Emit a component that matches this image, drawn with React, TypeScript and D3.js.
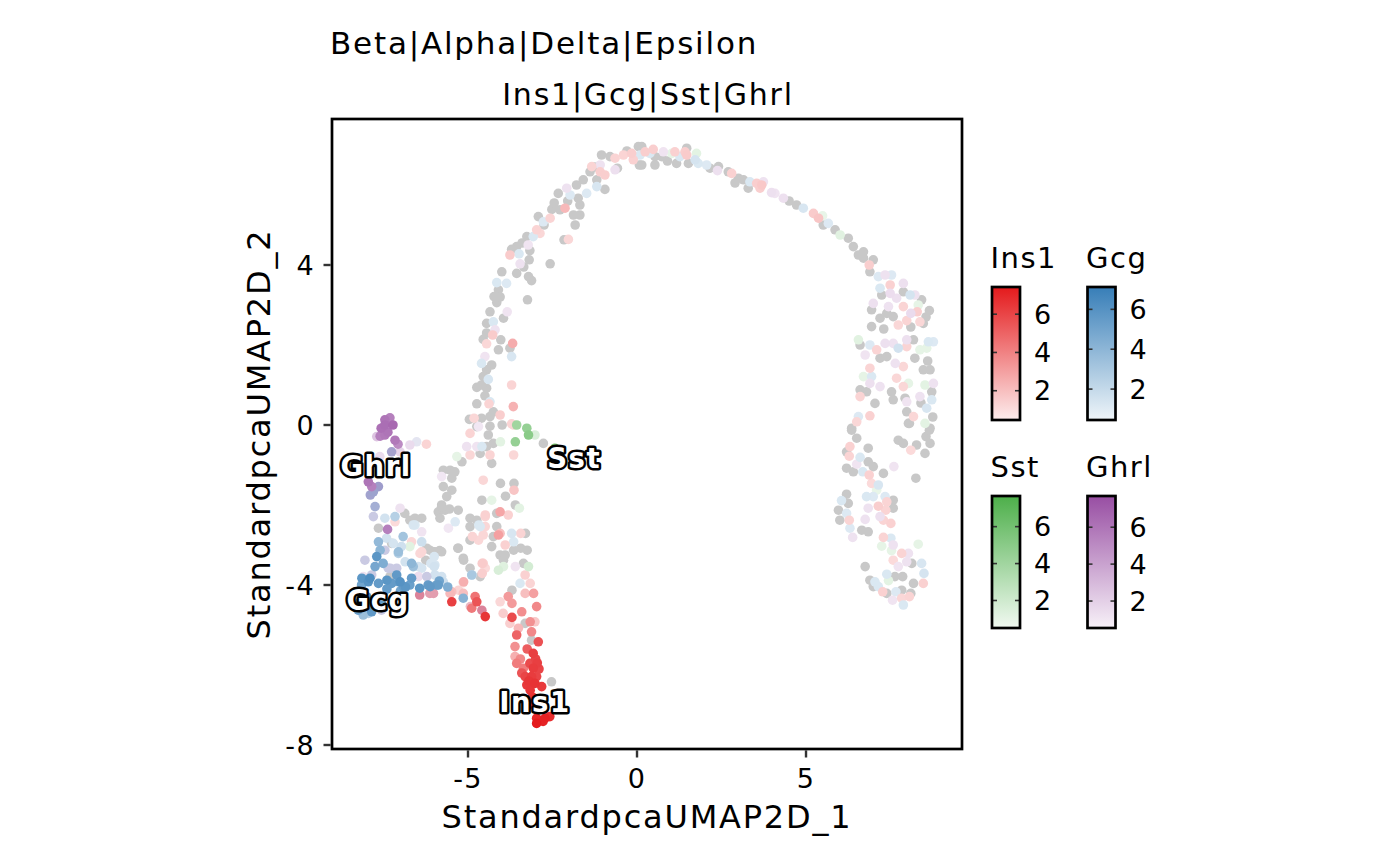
import React from 'react';
import * as d3 from 'd3';

// feature order used everywhere below
const genes = ['Ins1', 'Gcg', 'Sst', 'Ghrl'];
const geneColors = ['#E41A1C', '#377EB8', '#4DAF4A', '#984EA3'];
const geneMin = [0.47, 0.45, 0.51, 0.54];
const geneMax = [7.42, 7.12, 7.66, 7.69];
const legendTicks = [2, 4, 6];
const xTicks = [-5, 0, 5];
const yTicks = [-8, -4, 0, 4];

const labelGenes = ['Ins1', 'Gcg', 'Sst', 'Ghrl'];
const labelX = [-3.02, -7.66, -1.86, -7.72];
const labelY = [-6.93, -4.38, -0.83, -1.03];

// cells with no expression of any feature
const grayCells: [number, number][] = [
    [0.04, 6.96], [0.07, 6.5], [-1.05, 6.75], [-0.8, 6.71], [-1.39, 6.33], [-0.58, 6.42], [-1.19, 6.13], [-1.59, 6.13],
    [-1.79, 6.0], [-0.95, 5.89], [-2.33, 5.79], [-1.74, 5.67], [-1.69, 5.5], [-2.28, 5.38], [-2.52, 5.39], [-2.92, 5.21],
    [-1.88, 5.25], [-1.69, 5.25], [-1.83, 5.0], [-3.26, 4.71], [-3.56, 4.46], [-3.71, 4.39], [-3.17, 4.36], [-3.19, 4.13],
    [-3.56, 3.79], [-3.21, 3.71], [-3.12, 3.61], [-2.57, 4.03], [-2.16, 4.63], [-4.0, 3.83], [-4.1, 3.38], [-4.23, 3.21],
    [-4.15, 3.06], [-3.24, 3.13], [-4.35, 2.83], [-3.95, 2.67], [-4.45, 2.54], [-4.55, 2.14], [-4.03, 2.13], [-3.76, 1.92],
    [-4.1, 1.88], [-4.3, 1.5], [-4.45, 1.38], [-4.55, 1.21], [-4.74, 0.94], [-4.45, 0.92], [-4.5, 0.73], [-4.74, 0.53],
    [-4.6, 0.17], [-4.35, 0.21], [-4.25, 0.33], [-4.96, 0.14], [-4.35, -0.03],
    [-1.25, 6.45], [-2.45, 5.55], [-2.75, 5.0], [-3.4, 4.55], [-3.35, 3.95], [-4.05, 3.2], [-4.45, 2.3], [-4.6, 1.0],
    [-0.3, 6.85], [-2.05, 5.6],
    [0.14, 6.96], [0.53, 6.71], [0.14, 6.5], [0.53, 6.5], [0.73, 6.71], [1.17, 6.54], [1.47, 6.92], [1.52, 6.54],
    [2.16, 6.42], [2.41, 6.46], [2.7, 6.33], [3.0, 6.17], [3.15, 6.13], [3.29, 5.92], [4.72, 5.5], [5.51, 5.0],
    [5.86, 4.88], [6.25, 4.67], [6.4, 4.46], [6.7, 4.33], [6.7, 4.17], [6.99, 4.13], [6.89, 3.83], [7.24, 3.25],
    [7.88, 3.33], [8.42, 3.13], [6.94, 2.88], [8.65, 2.86], [7.19, 2.67], [7.39, 2.79], [7.58, 2.71], [8.47, 2.54],
    [6.94, 2.46], [6.6, 2.0], [8.18, 2.13], [7.19, 1.67], [7.39, 1.71], [8.22, 1.67], [8.47, 1.38], [8.67, 1.38],
    [6.6, 0.88], [6.79, 0.83], [7.53, 0.83], [7.04, 0.54], [7.58, 0.63], [7.93, 0.67], [8.72, 0.83], [7.98, 0.33],
    [8.06, 0.04], [6.35, -0.08], [8.67, -0.08],
    [8.55, 2.7], [8.1, 2.45], [7.3, 2.4], [8.6, 1.6], [8.4, 0.55], [8.75, 0.2], [0.9, 6.6], [2.9, 6.05], [4.5, 5.6],
    [6.55, 4.25],
    [-5.18, -0.92], [-4.64, -0.71], [-4.3, -0.96], [-4.45, -0.54], [-4.25, -0.46], [-4.4, -0.25], [-4.74, -0.04],
    [-3.99, 0.0], [-2.77, -0.46], [-5.73, -1.13], [-5.53, -1.13], [-5.39, -1.17], [-5.48, -1.33], [-5.73, -1.54],
    [-5.48, -1.63], [-5.63, -1.79], [-4.04, -1.46], [-3.64, -1.46], [-3.89, -1.78], [-4.59, -1.88], [-3.6, -2.0],
    [-5.78, -2.0], [-5.68, -2.13], [-5.88, -2.17], [-5.29, -2.13], [-5.83, -2.33], [-4.94, -2.33], [-4.74, -2.38],
    [-4.15, -2.21], [-4.94, -2.54], [-4.15, -2.54], [-4.25, -2.79], [-4.94, -2.88], [-4.3, -3.04], [-3.3, -2.71],
    [-3.44, -3.08], [-3.25, -3.13], [-3.65, -3.13], [-5.29, -3.08], [-5.14, -3.33], [-4.94, -3.58], [-4.64, -3.79],
    [-4.05, -3.25], [-3.9, -3.25], [-3.95, -3.38], [-3.36, -3.46], [-3.7, -4.13], [-3.31, -4.96], [-3.12, -5.38],
    [-2.53, -6.42], [-7.65, -2.58], [-7.26, -2.96], [-6.87, -2.21], [-6.72, -2.38], [-6.57, -2.38], [-6.13, -3.13],
    [-6.03, -3.17], [-5.84, -3.14], [-6.25, -3.38], [-7.31, -3.79],
    [-6.57, -2.33], [-6.37, -2.33], [-5.98, -3.17], [-5.78, -3.17], [-6.22, -3.08], [-5.78, -2.04], [-5.55, -2.1],
    [-5.3, -3.08], [-5.13, -3.38],
    [6.35, -0.13], [6.5, -0.33], [6.2, -0.67], [6.2, -1.08], [6.4, -1.17], [6.84, -0.58], [6.84, -0.92], [6.99, -1.04],
    [7.29, -1.21], [8.03, 0.04], [7.73, -0.38], [7.88, -0.46], [8.27, -0.5], [8.52, -0.71], [8.55, -0.29], [8.67, -0.46],
    [8.65, -0.13], [8.25, -1.33], [6.2, -1.73], [6.25, -1.96], [5.96, -2.13], [6.0, -2.38], [6.65, -2.63], [6.84, -2.67],
    [7.58, -1.88], [7.58, -2.08], [8.13, -3.46], [6.75, -3.54], [6.89, -3.88], [7.63, -3.79], [7.86, -3.79], [7.39, -4.21],
    [7.83, -4.13], [8.18, -3.96], [8.1, -4.21], [6.99, -4.04],
];

// [x, y, expression]
const ins1Cells: [number, number, number][] = [
    [0.24, 6.83, 1.5], [-0.16, 6.79, 1.5], [-0.4, 6.75, 1.3], [-0.65, 6.67, 1.3], [-0.11, 6.63, 1.4], [-1.34, 6.46, 1.3],
    [-1.09, 6.33, 1.5], [-0.95, 6.25, 1.5], [-2.13, 5.42, 2.2], [-2.57, 5.17, 1.3], [-2.97, 4.88, 1.3], [-2.87, 4.79, 1.2],
    [-3.76, 4.25, 1.6], [-2.03, 4.64, 1.2], [-4.27, 2.25, 1.6], [-3.68, 2.04, 2.6], [-4.45, 2.03, 1.2], [-3.71, 1.0, 1.3],
    [-4.38, 0.53, 1.3], [-3.66, 0.46, 2.4], [-4.05, 0.25, 1.5], [-4.82, 0.17, 1.2], [-3.71, 0.03, 1.3],
    [0.48, 6.89, 1.5], [1.12, 6.83, 1.4], [1.42, 6.83, 1.5], [1.47, 6.75, 1.6], [2.8, 6.29, 1.4], [3.54, 6.04, 1.5],
    [3.69, 6.0, 1.7], [3.64, 5.92, 1.5], [5.22, 5.29, 1.6], [5.37, 5.17, 1.8], [6.87, 4.0, 1.5], [7.49, 3.5, 1.4],
    [7.88, 2.96, 1.3], [8.29, 2.83, 1.5], [7.73, 2.5, 1.2], [7.98, 2.61, 1.3], [8.37, 2.58, 1.2], [7.09, 1.88, 1.3],
    [7.98, 1.96, 1.3], [7.88, 1.46, 1.2], [6.89, 1.42, 1.3], [7.68, 1.17, 1.2], [7.88, 0.96, 1.2], [6.6, 0.71, 1.3],
    [8.18, 0.21, 1.2], [6.89, 0.23, 1.4], [6.5, 0.08, 1.2],
    [-6.23, -0.48, 1.3], [-4.94, -0.21, 1.3], [-4.94, -0.75, 1.2], [-4.35, -0.75, 1.3], [-3.65, 0.0, 1.2],
    [-3.65, -0.75, 1.2], [-4.55, -1.38, 1.2], [-3.64, -1.63, 1.8], [-7.16, -2.42, 1.1], [-6.37, -3.17, 1.2],
    [-4.49, -2.29, 1.3], [-4.05, -2.17, 2.8], [-3.81, -2.25, 1.4], [-4.49, -2.54, 1.2], [-4.05, -2.71, 2.0],
    [-4.1, -2.75, 3.0], [-4.55, -2.75, 1.2], [-4.69, -2.88, 1.2], [-3.9, -3.0, 1.4], [-3.44, -2.71, 1.3],
    [-4.55, -3.46, 1.4], [-4.49, -3.58, 1.1], [-3.31, -3.75, 1.4], [-3.16, -3.96, 1.3], [-3.06, -4.21, 3.0],
    [-3.31, -4.21, 2.0], [-3.81, -4.29, 3.2], [-3.7, -4.46, 3.2], [-4.05, -4.42, 1.2], [-2.97, -4.54, 3.8],
    [-3.41, -4.67, 3.6], [-3.7, -4.81, 5.8], [-3.96, -4.71, 1.5], [-3.76, -4.96, 1.5], [-3.16, -4.92, 3.5],
    [-3.02, -4.92, 1.7], [-3.51, -5.08, 2.2], [-3.12, -5.17, 3.8], [-3.56, -5.25, 5.0], [-2.92, -5.42, 5.6],
    [-3.61, -5.54, 3.5], [-3.07, -5.71, 6.2], [-3.61, -5.79, 2.5], [-3.56, -5.96, 4.2], [-3.36, -6.08, 4.2],
    [-3.17, -5.96, 5.8], [-3.07, -6.08, 6.3], [-3.31, -6.29, 6.0], [-3.12, -6.29, 6.3], [-2.97, -6.29, 6.0],
    [-3.26, -6.5, 6.4], [-3.02, -6.46, 6.6], [-2.82, -6.54, 6.4], [-3.16, -6.63, 6.5], [-2.97, -7.33, 7.0],
    [-2.72, -7.33, 7.2], [-2.58, -7.29, 6.8], [-2.97, -7.46, 7.4], [-2.78, -7.41, 7.1], [-3.1, -6.8, 6.6],
    [-2.9, -6.9, 6.9], [-3.2, -7.0, 6.8], [-2.75, -7.1, 7.0], [-3.41, -6.2, 5.5], [-2.9, -6.1, 6.0], [-3.2, -6.4, 6.5],
    [-3.0, -5.85, 6.0], [-3.45, -5.85, 3.8], [-3.25, -5.6, 5.2], [-2.95, -5.95, 6.2],
    [-5.48, -4.42, 6.2], [-5.53, -4.21, 2.2], [-5.14, -4.21, 2.0], [-4.79, -4.29, 4.5], [-4.74, -4.42, 5.5],
    [-4.89, -4.58, 4.3], [-4.49, -4.79, 6.5], [-5.14, -3.94, 1.2],
    [-6.67, -2.92, 1.2], [-6.42, -3.21, 1.2], [-5.48, -4.17, 2.0], [-5.28, -4.13, 1.3], [-5.13, -3.92, 2.5],
    [-4.58, -3.71, 1.5], [-4.58, -3.46, 1.6], [-4.87, -2.79, 1.3], [-4.49, -2.25, 1.4],
    [6.3, -0.54, 1.4], [6.28, -0.78, 1.3], [6.87, -1.25, 1.4], [6.94, -1.46, 1.1], [6.28, -2.38, 1.3], [7.39, -1.92, 1.3],
    [7.14, -2.03, 1.5], [7.36, -2.13, 1.3], [7.29, -2.38, 1.3], [7.51, -2.46, 1.4], [7.29, -2.81, 1.3], [7.83, -3.21, 1.3],
    [7.58, -3.38, 1.1], [7.27, -4.17, 1.4], [8.06, -4.29, 1.3], [7.83, -4.33, 1.2], [8.47, -3.96, 1.4], [8.1, -0.63, 1.1],
];

const gcgCells: [number, number, number][] = [
    [0.09, 6.75, 1.2], [-1.98, 5.75, 1.1], [-1.49, 5.79, 1.1], [-1.19, 5.96, 1.3], [-2.77, 5.08, 1.1], [-3.07, 4.71, 1.2],
    [-3.49, 4.28, 1.2], [-4.15, 3.56, 1.2], [-3.86, 3.54, 1.1], [-4.25, 2.58, 1.2], [-4.6, 1.54, 1.2], [-3.71, 1.71, 1.3],
    [-4.4, 1.14, 1.3], [-4.35, 0.58, 1.2],
    [0.38, 6.79, 1.2], [1.27, 6.71, 1.2], [1.72, 6.63, 1.4], [1.81, 6.54, 1.2], [2.06, 6.5, 1.1], [3.34, 6.08, 1.2],
    [4.92, 5.42, 1.3], [5.66, 5.04, 1.1], [7.14, 3.71, 1.1], [7.53, 3.75, 1.1], [7.19, 3.42, 1.2], [8.08, 3.25, 1.4],
    [6.89, 2.0, 1.1], [7.73, 1.92, 1.5], [8.62, 2.08, 1.2], [8.77, 2.08, 1.1], [6.94, 1.21, 1.2], [8.72, 0.63, 1.2],
    [8.57, 0.42, 1.3], [6.55, 0.21, 1.1],
    [-4.59, -0.54, 1.2], [-7.46, -2.33, 1.5], [-7.16, -2.29, 2.5], [-6.57, -2.5, 1.2], [-7.65, -2.92, 3.8],
    [-7.41, -2.83, 1.5], [-6.92, -2.79, 3.2], [-6.97, -3.04, 1.6], [-6.37, -2.92, 1.7], [-7.6, -3.13, 4.0],
    [-7.7, -3.29, 5.8], [-7.51, -3.46, 4.5], [-7.75, -3.54, 4.8], [-7.06, -3.21, 2.5], [-6.67, -3.46, 4.0],
    [-6.47, -3.54, 1.4], [-6.0, -3.29, 1.3], [-6.0, -3.54, 1.5], [-6.1, -3.46, 1.3], [-7.9, -3.83, 6.3],
    [-7.65, -3.96, 5.5], [-8.15, -4.0, 5.0], [-7.11, -3.75, 5.6], [-7.06, -3.92, 5.0], [-7.26, -3.96, 5.5],
    [-6.67, -3.83, 5.5], [-6.72, -4.0, 5.2], [-6.43, -4.08, 5.8], [-6.18, -4.0, 5.5], [-5.93, -4.0, 5.2],
    [-5.78, -3.79, 1.5], [-8.0, -4.29, 6.5], [-8.25, -4.63, 5.2], [-8.1, -4.75, 3.5], [-7.85, -4.67, 5.6],
    [-8.25, -4.46, 5.2], [-5.38, -2.42, 1.1], [-4.64, -2.54, 1.2], [-3.71, -2.71, 1.3], [-3.65, -2.92, 1.2],
    [-4.89, -3.75, 3.0], [-3.46, -3.96, 1.2], [-5.14, -4.33, 4.2], [-7.4, -4.1, 5.5], [-7.0, -4.15, 5.0],
    [-6.85, -4.05, 5.8], [-7.55, -4.5, 5.5], [-7.9, -4.45, 6.0], [-5.85, -3.9, 5.0], [-5.6, -4.05, 4.5],
    [-6.62, -2.5, 1.3], [-7.21, -2.96, 1.4], [-7.06, -3.17, 3.5], [-6.86, -3.42, 1.5], [-6.62, -3.54, 3.5],
    [-6.37, -3.58, 1.4], [-5.98, -3.5, 1.3], [-5.98, -3.75, 1.5], [-8.14, -3.83, 5.8], [-7.95, -3.92, 6.0],
    [-7.4, -3.88, 5.8], [-7.01, -3.92, 6.0], [-6.91, -4.04, 5.5], [-6.12, -4.04, 5.6], [-5.88, -4.0, 5.4],
    [-5.73, -3.92, 1.6], [-7.95, -4.71, 2.5], [-4.88, -3.75, 1.5], [-4.68, -2.5, 1.2],
    [6.6, -0.81, 1.2], [6.68, -1.17, 1.2], [7.14, -1.5, 1.3], [6.05, -1.89, 1.2], [6.2, -2.21, 1.1], [6.3, -2.58, 1.1],
    [6.79, -1.79, 1.2], [6.99, -1.79, 1.1], [7.34, -1.79, 1.1], [7.51, -2.83, 1.2], [8.42, -3.46, 1.3], [8.49, -3.71, 1.4],
    [7.04, -3.92, 1.2], [7.39, -3.73, 1.2], [7.14, -4.04, 1.2], [7.66, -4.17, 1.1], [7.88, -4.5, 1.2],
];

const sstCells: [number, number, number][] = [
    [-3.56, 0.0, 4.0], [-3.26, -0.08, 4.5],
    [1.03, 6.79, 1.0], [1.76, 6.79, 1.1], [5.49, 5.23, 0.9], [6.01, 4.75, 1.2], [8.32, 3.0, 1.0], [6.55, 2.13, 1.2],
    [8.37, 1.88, 1.0], [8.57, 1.92, 1.0], [6.7, 1.21, 1.0], [8.03, 1.04, 1.0], [8.52, 1.0, 1.1], [8.52, 0.04, 1.1],
    [-5.33, -0.79, 1.0], [-4.04, -0.42, 1.1], [-3.6, -0.42, 4.5], [-3.21, -0.25, 5.0], [-3.02, -0.25, 1.5],
    [-2.43, -0.58, 6.0], [-4.3, -1.88, 1.0], [-3.48, -2.08, 1.1], [-6.72, -3.04, 1.2], [-4.1, -3.63, 1.6],
    [-3.95, -3.54, 1.3], [-3.21, -3.54, 1.8],
    [7.09, -1.63, 0.9], [7.24, -3.03, 1.0], [7.53, -3.14, 1.0], [8.32, -2.98, 1.0], [7.44, -3.89, 1.1],
];

const ghrlCells: [number, number, number][] = [
    [-1.09, 6.5, 1.2], [-0.65, 6.38, 1.3], [-2.08, 5.92, 1.2], [-3.22, 4.5, 1.1], [-3.46, 4.03, 1.2], [-3.84, 2.83, 1.1],
    [-4.2, 2.38, 1.2], [-4.5, 1.71, 1.1], [-4.69, -0.04, 1.0],
    [0.78, 6.83, 1.1], [2.38, 6.36, 1.3], [3.74, 6.08, 1.2], [3.98, 5.81, 1.3], [4.08, 5.79, 1.1], [4.33, 5.67, 1.3],
    [7.34, 3.75, 1.2], [7.88, 3.54, 1.3], [7.49, 3.29, 1.4], [7.68, 3.17, 1.3], [8.22, 3.25, 1.2], [6.99, 3.04, 1.3],
    [7.44, 2.96, 1.2], [8.1, 2.79, 1.5], [6.75, 1.75, 1.1], [7.34, 2.04, 1.3], [7.58, 2.04, 1.2], [7.98, 2.13, 1.3],
    [7.64, 1.54, 1.2], [6.89, 1.04, 1.3], [7.19, 0.96, 1.2], [8.77, 1.04, 1.2], [7.98, 0.58, 1.1], [8.37, 0.71, 1.2],
    [-7.46, 0.13, 6.0], [-7.31, 0.18, 5.5], [-7.57, -0.08, 6.2], [-7.37, -0.18, 6.0], [-7.16, -0.38, 5.8],
    [-7.6, -0.28, 5.5], [-7.07, -0.48, 5.0], [-7.22, 0.0, 6.5], [-7.46, 0.0, 6.3], [-7.46, -0.25, 5.8],
    [-7.7, -0.29, 2.5], [-7.01, -0.67, 1.8], [-6.72, -0.5, 1.5], [-7.61, -0.79, 1.5], [-7.95, -1.42, 6.0],
    [-7.85, -1.54, 5.5], [-5.04, -0.54, 1.2], [-4.74, -0.54, 1.1], [-5.78, -1.29, 1.0], [-5.58, -2.58, 1.0],
    [-6.37, -2.67, 1.1], [-7.01, -2.08, 1.2], [-7.38, -2.61, 5.5], [-8.1, -3.79, 1.2], [-6.47, -3.79, 1.4],
    [-3.6, -3.54, 1.1],
    [6.5, -0.98, 1.1], [7.6, -1.04, 1.1], [6.38, -2.81, 1.2], [6.84, -2.08, 1.2], [7.19, -2.29, 1.3], [6.75, -2.36, 1.2],
    [7.58, -3.0, 1.2], [8.03, -3.21, 1.2], [7.73, -3.54, 1.1], [7.98, -3.42, 1.2], [7.56, -4.38, 1.1],
];

// cells expressing more than one feature: [x, y, Ins1, Gcg, Sst, Ghrl]
const mixedCells: [number, number, number, number, number, number][] = [
    [-7.26, -0.67, 0, 4.0, 0, 5.0], [-6.52, -0.42, 0, 1.2, 0, 1.2], [-7.65, -1.54, 0, 4.5, 0, 5.0],
    [-7.8, -1.67, 0, 5.0, 0, 4.0], [-7.89, -1.75, 0, 4.5, 0, 4.5], [-7.75, -2.04, 0, 5.0, 0, 3.0],
    [-7.8, -2.29, 0, 2.5, 0, 2.5], [-8.05, -3.38, 0, 2.5, 0, 2.5], [-7.36, -3.58, 0, 2.5, 0, 2.5],
    [-7.11, -3.58, 0, 2.5, 0, 2.5], [-7.56, -4.63, 0, 2.5, 0, 2.5], [-6.43, -4.25, 5.0, 0, 0, 4.0],
    [-6.13, -4.21, 4.0, 0, 0, 3.0], [-4.59, -4.63, 5.0, 0, 0, 4.0],
    [-7.46, -3.13, 0, 2.5, 0, 2.5], [-7.3, -3.58, 0, 2.5, 0, 2.5], [-7.85, -3.75, 0, 2.5, 0, 2.5],
    [-6.22, -3.79, 0, 2.5, 0, 2.5], [-6.02, -4.21, 4.0, 0, 0, 3.0], [-4.93, -4.54, 3.0, 0, 0, 2.0],
];

const W = 1400;
const H = 866;
const panel = { left: 332, right: 962, top: 119, bottom: 749 };
const FONT = '"DejaVu Sans", sans-serif';
const GRAY = '#C8C8C8';
const R = 4.8;

const x = d3.scaleLinear().domain([-9.024, 9.615]).range([panel.left, panel.right]);
const y = d3.scaleLinear().domain([-8.1, 7.65]).range([panel.bottom, panel.top]);

const lowColors = geneColors.map(c => d3.interpolateRgb('#ffffff', c)(0.08));
const geneScales = geneColors.map((c, i) =>
    d3.scaleLinear<string>().domain([geneMin[i], geneMax[i]]).range([lowColors[i], c]).clamp(true)
);

type Cell = { x: number; y: number; v: number[] };

// blend the colours of every expressed feature
function cellColor(c: Cell): string {
    const cols = c.v.map((v, i) => (v > 0 ? d3.rgb(geneScales[i](v)) : null)).filter(Boolean) as d3.RGBColor[];
    if (cols.length === 0) return GRAY;
    const r = d3.mean(cols, k => k.r)!;
    const g = d3.mean(cols, k => k.g)!;
    const b = d3.mean(cols, k => k.b)!;
    return d3.rgb(r, g, b).formatHex();
}

const cells: Cell[] = [
    ...grayCells.map(([a, b]) => ({ x: a, y: b, v: [0, 0, 0, 0] })),
    ...ins1Cells.map(([a, b, v]) => ({ x: a, y: b, v: [v, 0, 0, 0] })),
    ...gcgCells.map(([a, b, v]) => ({ x: a, y: b, v: [0, v, 0, 0] })),
    ...sstCells.map(([a, b, v]) => ({ x: a, y: b, v: [0, 0, v, 0] })),
    ...ghrlCells.map(([a, b, v]) => ({ x: a, y: b, v: [0, 0, 0, v] })),
    ...mixedCells.map(([a, b, i1, g1, s1, h1]) => ({ x: a, y: b, v: [i1, g1, s1, h1] })),
].sort((p, q) => d3.max(p.v)! - d3.max(q.v)!);

// colourbar legends, two per row
const legendPos = [
    { x: 992, titleY: 268, barY: 287, barH: 133 },
    { x: 1087.5, titleY: 268, barY: 287, barH: 133 },
    { x: 992, titleY: 477, barY: 496, barH: 132 },
    { x: 1087.5, titleY: 477, barY: 496, barH: 132 },
];
const BAR_W = 28;

export default function App() {
    return (
        <svg width={W} height={H} viewBox={`0 0 ${W} ${H}`}
            style={{ position: 'absolute', left: 0, top: 0, background: '#fff' }}
            fontFamily={FONT}>
            <defs>
                {genes.map((g, i) => (
                    <linearGradient key={g} id={`grad-${g}`} x1="0" y1="1" x2="0" y2="0">
                        <stop offset="0%" stopColor={lowColors[i]} />
                        <stop offset="100%" stopColor={geneColors[i]} />
                    </linearGradient>
                ))}
                <clipPath id="panel-clip">
                    <rect x={panel.left} y={panel.top} width={panel.right - panel.left} height={panel.bottom - panel.top} />
                </clipPath>
            </defs>

            <rect width={W} height={H} fill="#fff" />

            {/* titles */}
            <text x={330} y={54} fontSize={31} letterSpacing={1.8} fill="#000">Beta|Alpha|Delta|Epsilon</text>
            <text x={648} y={105} fontSize={30} letterSpacing={1.8} textAnchor="middle" fill="#000">Ins1|Gcg|Sst|Ghrl</text>

            {/* points */}
            <g clipPath="url(#panel-clip)">
                {cells.map((c, i) => (
                    <circle key={i} cx={x(c.x)} cy={y(c.y)} r={R} fill={cellColor(c)} />
                ))}
            </g>

            {/* feature labels */}
            {labelGenes.map((g, i) => (
                <text key={g} x={x(labelX[i])} y={y(labelY[i])} fontSize={27.5} fontWeight="bold" letterSpacing={1.5}
                    textAnchor="middle" dominantBaseline="central" fill="#fff" stroke="#000" strokeWidth={5}
                    strokeLinejoin="round" paintOrder="stroke">{g}</text>
            ))}

            {/* panel border */}
            <rect x={panel.left} y={panel.top} width={panel.right - panel.left} height={panel.bottom - panel.top}
                fill="none" stroke="#000" strokeWidth={2.7} />

            {/* x axis */}
            {xTicks.map(t => (
                <g key={t}>
                    <line x1={x(t)} x2={x(t)} y1={panel.bottom + 1.3} y2={panel.bottom + 8.5} stroke="#333" strokeWidth={2.4} />
                    <text x={x(t)} y={787.5} fontSize={27} letterSpacing={1.4} textAnchor="middle" fill="#000">{t}</text>
                </g>
            ))}
            <text x={647} y={828} fontSize={32} letterSpacing={1.8} textAnchor="middle" fill="#000">StandardpcaUMAP2D_1</text>

            {/* y axis */}
            {yTicks.map(t => (
                <g key={t}>
                    <line x1={panel.left - 8.5} x2={panel.left - 1.3} y1={y(t)} y2={y(t)} stroke="#333" strokeWidth={2.4} />
                    <text x={315} y={y(t)} fontSize={27} letterSpacing={1.4} textAnchor="end" dominantBaseline="central" fill="#000">{t}</text>
                </g>
            ))}
            <text transform={`translate(270,${(panel.top + panel.bottom) / 2}) rotate(-90)`} fontSize={32} letterSpacing={1.8}
                textAnchor="middle" fill="#000">StandardpcaUMAP2D_2</text>

            {/* legends */}
            {genes.map((g, i) => {
                const p = legendPos[i];
                const s = d3.scaleLinear().domain([geneMin[i], geneMax[i]]).range([p.barY + p.barH, p.barY]);
                return (
                    <g key={g}>
                        <text x={p.x - 1.5} y={p.titleY} fontSize={29} letterSpacing={1.5} fill="#000">{g}</text>
                        <rect x={p.x} y={p.barY} width={BAR_W} height={p.barH} fill={`url(#grad-${g})`} />
                        {legendTicks.map(t => (
                            <g key={t}>
                                <line x1={p.x} x2={p.x + 5} y1={s(t)} y2={s(t)} stroke="#333" strokeWidth={1.6} />
                                <line x1={p.x + BAR_W - 5} x2={p.x + BAR_W} y1={s(t)} y2={s(t)} stroke="#333" strokeWidth={1.6} />
                                <text x={p.x + BAR_W + 14} y={s(t)} fontSize={27} letterSpacing={1.4}
                                    dominantBaseline="central" fill="#000">{t}</text>
                            </g>
                        ))}
                        <rect x={p.x} y={p.barY} width={BAR_W} height={p.barH} fill="none" stroke="#000" strokeWidth={2.7} />
                    </g>
                );
            })}
        </svg>
    );
}
